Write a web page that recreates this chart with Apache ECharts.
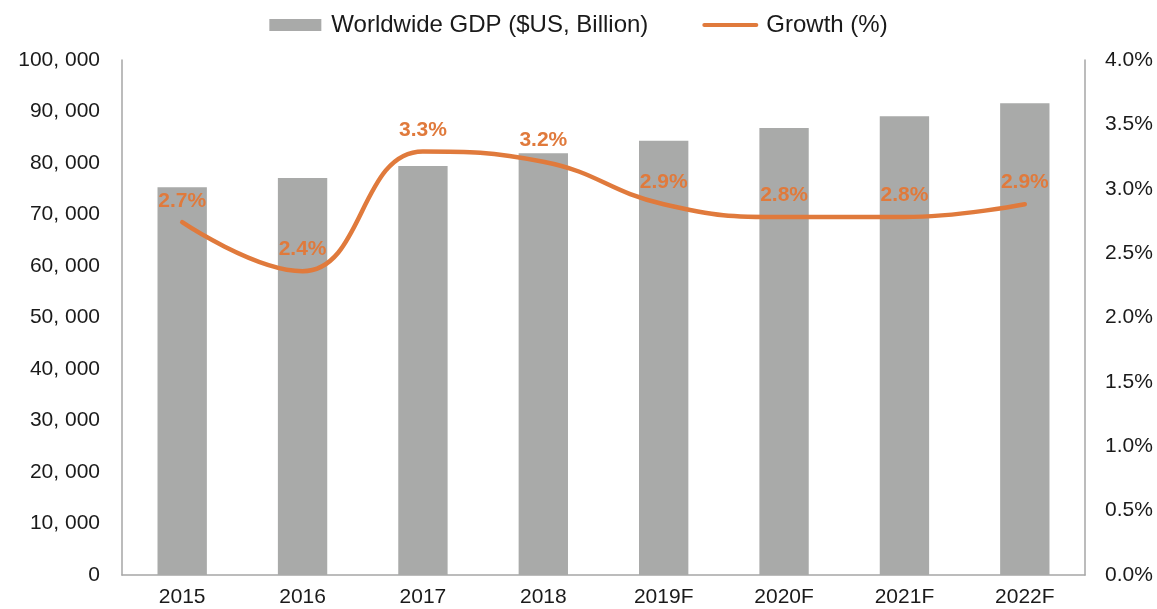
<!DOCTYPE html>
<html>
<head>
<meta charset="utf-8">
<script src="https://cdn.jsdelivr.net/npm/echarts@6/dist/echarts.min.js"></script>
<style>
  html, body { margin: 0; padding: 0; background: #fff; }
  #chart { width: 1157px; height: 609px; }
</style>
</head>
<body>
<div id="chart"></div>
<script>
// 数据
const years = ["2015", "2016", "2017", "2018", "2019F", "2020F", "2021F", "2022F"];
const gdp = [75300, 77100, 79400, 81900, 84300, 86800, 89100, 91600];
const growth = [2.74, 2.36, 3.29, 3.21, 2.88, 2.78, 2.78, 2.88];

const chart = echarts.init(document.getElementById("chart"));
const font = "Liberation Sans, Arial, sans-serif";
const axisGray = "#A6A6A6";
const barGray = "#A9AAA9";
const orange = "#E07A3C";

chart.setOption({
  animation: false,
  textStyle: { fontFamily: font },
  legend: {
    top: 8,
    left: "center",
    itemGap: 54,
    itemWidth: 52,
    itemHeight: 12,
    textStyle: { fontSize: 24, color: "#1a1a1a", fontFamily: font, padding: [0, 0, 0, 5] },
    data: [
      { name: "Worldwide GDP ($US, Billion)", icon: "rect", itemStyle: { color: barGray } },
      { name: "Growth (%)", itemStyle: { opacity: 0 }, lineStyle: { color: orange, width: 4, cap: "round" } },
    ],
  },
  grid: { left: 122, right: 72, top: 60, bottom: 34 },
  xAxis: {
    type: "category",
    data: years,
    axisLine: { lineStyle: { color: axisGray, width: 1.5 } },
    axisTick: { show: false },
    axisLabel: { fontSize: 21, color: "#1a1a1a", margin: 12 },
  },
  yAxis: [
    {
      type: "value",
      min: 0,
      max: 100000,
      interval: 10000,
      axisLine: { show: true, lineStyle: { color: axisGray, width: 1.5 } },
      axisTick: { show: false },
      splitLine: { show: false },
      axisLabel: {
        fontSize: 21,
        color: "#1a1a1a",
        margin: 22,
        formatter: (v) => v === 0 ? "0" : Math.floor(v / 1000) + ", 000",
      },
    },
    {
      type: "value",
      min: 0,
      max: 4,
      interval: 0.5,
      axisLine: { show: true, lineStyle: { color: axisGray, width: 1.5 } },
      axisTick: { show: false },
      splitLine: { show: false },
      axisLabel: {
        fontSize: 21,
        color: "#1a1a1a",
        margin: 20,
        formatter: (v) => v.toFixed(1) + "%",
      },
    },
  ],
  series: [
    {
      name: "Worldwide GDP ($US, Billion)",
      type: "bar",
      data: gdp,
      barWidth: "41%",
      itemStyle: { color: barGray },
    },
    {
      name: "Growth (%)",
      type: "line",
      yAxisIndex: 1,
      data: growth,
      smooth: 0.45,
      symbol: "circle",
      symbolSize: 0,
      showSymbol: true,
      lineStyle: { color: orange, width: 4.5, cap: "round" },
      itemStyle: { color: orange },
      label: {
        show: true,
        position: "top",
        distance: 11,
        fontSize: 21,
        fontWeight: "bold",
        color: orange,
        formatter: (p) => p.value.toFixed(1) + "%",
      },
    },
  ],
});
</script>
</body>
</html>
